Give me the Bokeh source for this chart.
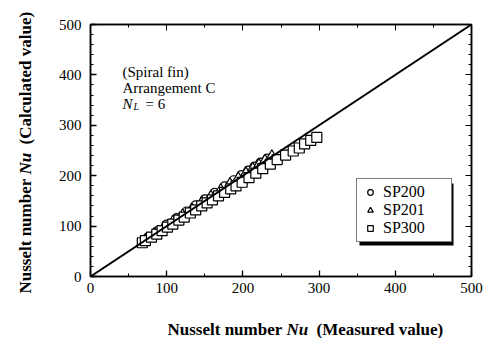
import numpy as np
from bokeh.plotting import figure
from bokeh.layouts import column
from bokeh.models import (Range1d, LinearAxis, Label, Legend, LegendItem,
                          SingleIntervalTicker, BoxAnnotation)
from bokeh.embed import file_html
from bokeh.resources import INLINE

# ---------------- data ----------------
sp200_meas = [75, 88, 100, 113, 126, 138, 150, 163, 176, 188, 198, 207, 215, 223, 232]
sp200_calc = [77, 90, 103, 116, 129, 141, 153, 166, 179, 191, 201, 210, 218, 226, 234]

sp201_meas = [72, 84, 96, 108, 121, 133, 146, 158, 171, 183, 194, 204, 213, 221, 229, 238]
sp201_calc = [73, 86, 98, 110, 123, 135, 148, 160, 173, 185, 196, 206, 215, 223, 231, 240]

sp300_meas = [68, 72, 80, 87, 94, 101, 108, 116, 123, 131, 138, 146, 153, 160, 168,
              176, 184, 191, 199, 208, 217, 226, 236, 245, 256, 266, 274, 281, 289, 297]
sp300_calc = [67, 71, 78, 84, 91, 98, 104, 112, 118, 126, 132, 140, 146, 152, 160,
              167, 174, 180, 187, 196, 205, 214, 223, 232, 241, 249, 255, 263, 270, 276]

ref_line = [0, 500]
axis_range = (0, 500)

# ---------------- layout (pixels in the 488x338 page) ----------------
W, H = 488, 338
MAIN_H = 312                      # main plot; a 26 px strip below holds the x title
FL, FR, FT, FB = 90, 471, 24, 276
SERIF = "Liberation Serif"


def px2x(px):
    return (px - FL) / (FR - FL) * (axis_range[1] - axis_range[0]) + axis_range[0]


def px2y(py):
    return (FB - py) / (FB - FT) * (axis_range[1] - axis_range[0]) + axis_range[0]


p = figure(width=W, height=MAIN_H, output_backend="svg", toolbar_location=None,
           x_range=Range1d(*axis_range), y_range=Range1d(*axis_range),
           min_border_left=FL, min_border_right=W - FR,
           min_border_top=FT, min_border_bottom=MAIN_H - FB)
p.xgrid.visible = False
p.ygrid.visible = False
p.outline_line_color = "black"
p.outline_line_width = 1.5
p.background_fill_color = "white"
p.border_fill_color = "white"

p.xaxis.ticker = SingleIntervalTicker(interval=100, num_minor_ticks=2)
p.yaxis.ticker = SingleIntervalTicker(interval=100, num_minor_ticks=5)

for ax in (p.xaxis[0], p.yaxis[0]):
    ax.major_tick_in = 6
    ax.major_tick_out = 0
    ax.minor_tick_in = 3
    ax.minor_tick_out = 0
    ax.axis_line_width = 1.5
    ax.major_tick_line_width = 1.3
    ax.minor_tick_line_width = 1.0
    ax.major_label_text_font = SERIF
    ax.major_label_text_font_size = "15px"
    ax.major_label_text_color = "black"
p.xaxis.major_label_standoff = 6
p.yaxis.major_label_standoff = 9

# mirrored tick axes (no labels)
blank = {v: "" for v in range(0, 501, 100)}
ax_top = LinearAxis(ticker=SingleIntervalTicker(interval=100, num_minor_ticks=2),
                    major_label_overrides=blank)
ax_right = LinearAxis(ticker=SingleIntervalTicker(interval=100, num_minor_ticks=5),
                      major_label_overrides=blank)
for ax in (ax_top, ax_right):
    ax.major_tick_in = 6
    ax.major_tick_out = 0
    ax.minor_tick_in = 3
    ax.minor_tick_out = 0
    ax.axis_line_width = 1.5
    ax.major_label_standoff = 0
    ax.major_label_text_font_size = "1px"
p.add_layout(ax_top, "above")
p.add_layout(ax_right, "right")

# ---------------- marks ----------------
r200 = p.scatter(sp200_meas, sp200_calc, marker="circle", size=9,
                 fill_color="white", line_color="black", line_width=1.2)
r201 = p.scatter(sp201_meas, sp201_calc, marker="triangle", size=10,
                 fill_color="white", line_color="black", line_width=1.2)
r300 = p.scatter(sp300_meas, sp300_calc, marker="square", size=10,
                 fill_color="white", line_color="black", line_width=1.2)
p.line(ref_line, ref_line, line_color="black", line_width=2)

# legend drop shadow
p.add_layout(BoxAnnotation(left=px2x(359), right=px2x(453), top=px2y(183), bottom=px2y(245),
                           fill_color="black", fill_alpha=1, line_color=None))

legend = Legend(items=[LegendItem(label="SP200", renderers=[r200]),
                       LegendItem(label="SP201", renderers=[r201]),
                       LegendItem(label="SP300", renderers=[r300])],
                location=(266, 34))
legend.label_text_font = SERIF
legend.label_text_font_size = "16px"
legend.label_text_color = "black"
legend.border_line_color = "black"
legend.border_line_width = 1.5
legend.background_fill_color = "white"
legend.background_fill_alpha = 1
legend.padding = 4
legend.spacing = -6
legend.margin = 0
legend.label_standoff = 4
legend.glyph_width = 18
legend.glyph_height = 14
legend.label_height = 14
legend.label_width = 64
p.add_layout(legend, "center")


def lab(fig, text, x, y, size="15px", style="normal", angle=0.0, place="center"):
    fig.add_layout(Label(x=x, y=y, text=text, text_font=SERIF,
                         text_font_size=size, text_font_style=style,
                         text_color="black", text_align="left",
                         text_baseline="alphabetic", angle=angle), place)


# annotation inside the plot
lab(p, "(Spiral fin)", px2x(122), px2y(71))
lab(p, "Arrangement C", px2x(122), px2y(87))
lab(p, "N", px2x(122), px2y(103), style="italic")
lab(p, "L", px2x(133), px2y(106), size="10px", style="italic")
lab(p, "= 6", px2x(145), px2y(103))

# y axis title: rotated pieces kept in side panels so they are not clipped
lab(p, "Nusselt number", px2x(25), px2y(293), size="17px", style="bold",
    angle=np.pi / 2, place="left")
lab(p, "(Calculated value)", px2x(25), px2y(144), size="17px", style="bold",
    angle=np.pi / 2, place="left")
lab(p, "Nu", px2x(25), px2y(174), size="17px", style="bold italic",
    angle=np.pi / 2, place="above")

# x axis title strip below the plot (same horizontal frame as the plot)
XS_H = H - MAIN_H
xs = figure(width=W, height=XS_H, output_backend="svg", toolbar_location=None,
            x_range=Range1d(*axis_range), y_range=Range1d(0, XS_H),
            x_axis_type=None, y_axis_type=None,
            min_border_left=FL, min_border_right=W - FR,
            min_border_top=0, min_border_bottom=0)
xs.outline_line_color = None
xs.background_fill_color = "white"
xs.border_fill_color = "white"
xs.grid.visible = False
lab(xs, "Nusselt number", px2x(167), H - 329, size="17px", style="bold")
lab(xs, "Nu", px2x(286), H - 329, size="17px", style="bold italic")
lab(xs, "(Measured value)", px2x(316), H - 329, size="17px", style="bold")

page = column(p, xs, spacing=0)
open("out.html", "w").write(file_html(page, INLINE))
